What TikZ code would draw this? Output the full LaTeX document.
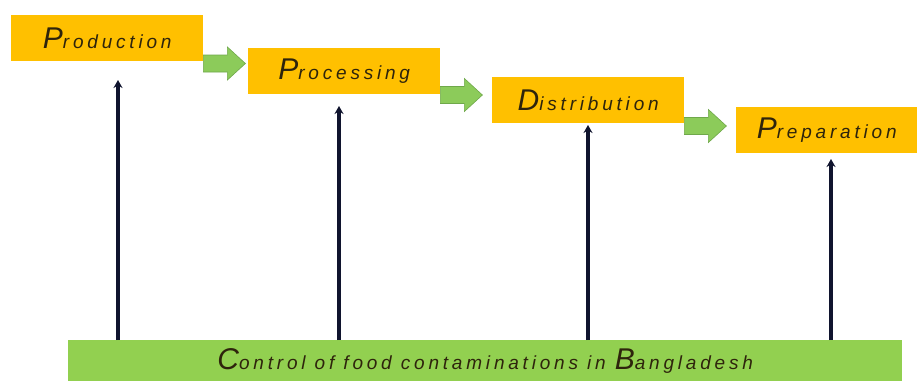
\documentclass[tikz,border=0pt]{standalone}
\usepackage{fontspec}
\setmainfont{Liberation Sans}[LetterSpace=20]
\usetikzlibrary{arrows.meta}
\definecolor{stageorange}{HTML}{FFC000}
\definecolor{basegreen}{HTML}{92D050}
\definecolor{flowgreen}{HTML}{8CCB5A}
\definecolor{flowedge}{HTML}{6FA84A}
\definecolor{navy}{HTML}{10142E}
\definecolor{inktext}{HTML}{2E240C}
% Word with an enlarged initial capital
\newcommand{\initw}[2]{{\fontsize{30}{30}\selectfont #1}{\fontsize{19}{19}\selectfont #2}}
\begin{document}
\begin{tikzpicture}[x=1pt,y=-1pt,
  stagebox/.style={fill=stageorange,draw=none,inner sep=0pt,
    minimum height=46pt,anchor=north west,text=inktext,font=\itshape},
  uparrow/.style={draw=navy,line width=3.4pt,-{Stealth[length=8pt,width=9pt]}},
  flowarrow/.style={fill=flowgreen,draw=flowedge,line width=0.6pt}]
\useasboundingbox[fill=white] (0,0) rectangle (917,381);

% process stages
\node[stagebox,minimum width=192pt] (prod) at (11,15)  {\initw{P}{roduction}};
\node[stagebox,minimum width=192pt] (proc) at (248,48) {\initw{P}{rocessing}};
\node[stagebox,minimum width=192pt] (dist) at (492,77) {\initw{D}{istribution}};
\node[stagebox,minimum width=181pt] (prep) at (736,107){\initw{P}{reparation}};

% foundation bar
\node[fill=basegreen,inner sep=0pt,minimum width=834pt,minimum height=41pt,
  anchor=north west,font=\itshape,text=inktext] (base) at (68,340)
  {\initw{C}{ontrol of food contaminations in }\initw{B}{angladesh}};

% block arrows between consecutive stages
\foreach \a/\b/\y in {prod/proc/63.5, proc/dist/95, dist/prep/126}{
  \coordinate (s) at (\a.east |- 0,\y);
  \filldraw[flowarrow] (s) ++(0,-8.5) -- ++(24,0) -- ++(0,-8) -- ++(18,16.5)
    -- ++(-18,16.5) -- ++(0,-8) -- ++(-24,0) -- cycle;
}

% supporting arrows from the foundation bar
\coordinate (t1) at (118,80);
\coordinate (t2) at (339,106);
\coordinate (t3) at (588,125);
\coordinate (t4) at (831,159);
\foreach \t in {t1,t2,t3,t4}
  \draw[uparrow] (base.north -| \t) -- (\t);
\end{tikzpicture}
\end{document}
